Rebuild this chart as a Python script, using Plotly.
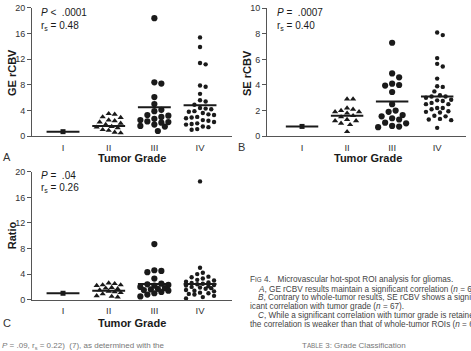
import plotly.graph_objects as go

W, H = 471, 351

grades = ["I", "II", "III", "IV"]
ytick_A = [0, 4, 8, 12, 16, 20]
ytick_B = [0, 2, 4, 6, 8, 10]
ytick_C = [0, 4, 8, 12, 16, 20]

# Panel A: GE rCBV
ge_I = [0.7]
ge_II = [3.5, 3.4, 3.0, 2.9, 2.5, 2.4, 2.2, 2.0, 1.8, 1.5, 1.4, 1.3, 1.0, 0.9, 0.6, 0.5]
ge_III = [18.4, 8.4, 8.2, 6.1, 5.0, 4.1, 3.9, 3.3, 3.2, 3.0, 2.7, 2.5, 2.3, 2.2, 2.1, 1.8, 1.6, 1.5, 0.8]
ge_IV = [15.4, 13.9, 11.4, 11.2, 7.9, 7.7, 6.6, 5.6, 5.4, 4.9, 4.4, 4.3, 4.2, 3.9, 3.8, 3.6,
         3.4, 3.3, 3.0, 2.9, 2.8, 2.5, 2.4, 2.2, 2.0, 1.9, 1.8, 1.5, 1.4, 1.1, 1.0]
ge_mean = [0.7, 1.6, 4.5, 4.8]

# Panel B: SE rCBV
se_I = [0.76]
se_II = [2.9, 2.9, 2.2, 2.1, 2.0, 1.9, 1.9, 1.8, 1.6, 1.5, 1.3, 1.2, 1.2, 1.0, 0.9, 0.35]
se_III = [7.3, 4.9, 4.6, 4.1, 4.0, 3.95, 3.45, 2.5, 2.0, 1.9, 1.65, 1.55, 1.4, 1.3, 1.05, 1.0, 0.8, 0.75, 0.7]
se_IV = [8.1, 7.9, 6.1, 5.65, 5.45, 4.5, 3.9, 3.85, 3.5, 3.2, 3.1, 3.1, 3.0, 2.85, 2.8, 2.75,
         2.6, 2.5, 2.5, 2.2, 2.2, 2.1, 1.95, 1.9, 1.85, 1.6, 1.55, 1.35, 1.3, 1.25, 0.65]
se_mean = [0.76, 1.6, 2.7, 3.1]

# Panel C: Ratio
ra_I = [1.0]
ra_II = [2.6, 2.5, 2.3, 2.3, 2.2, 1.9, 1.8, 1.7, 1.5, 1.3, 1.2, 1.1, 0.9, 0.6, 0.5, 0.4]
ra_III = [8.7, 4.6, 4.5, 4.3, 3.3, 2.5, 2.4, 2.3, 2.2, 2.0, 1.8, 1.7, 1.6, 1.5, 1.4, 1.2, 1.0, 0.8, 0.5]
ra_IV = [18.5, 5.0, 4.2, 4.0, 3.6, 3.5, 3.3, 3.1, 3.0, 2.8, 2.7, 2.6, 2.5, 2.4, 2.3, 2.2,
         2.1, 2.0, 1.9, 1.8, 1.7, 1.5, 1.4, 1.3, 1.1, 1.0, 0.9, 0.8, 0.6, 0.4, 0.2]
ra_mean = [1.0, 1.4, 2.45, 2.45]

INK = "#1a1a1a"
AX = "#555555"
FONT = "Liberation Sans, Arial, sans-serif"


def px_x(p):
    return p / W


def px_y(p):
    return 1 - p / H


def swarm(vals, ppu_y, ppu_x, dist, maxw):
    """Deterministic beeswarm: offsets (category units) that avoid overlap, within +-maxw px."""
    placed, offs = [], []
    step = dist / 2.0
    cands = [0.0]
    j = 1
    while j * step <= maxw:
        cands += [j * step, -j * step]
        j += 1
    for v in vals:
        y = v * ppu_y
        best, bestd = 0.0, -1
        for c in cands:
            dmin = min([((c - a) ** 2 + (y - b) ** 2) ** 0.5 for a, b in placed] or [99])
            if dmin >= dist:
                best = c
                break
            if dmin > bestd:
                best, bestd = c, dmin
        placed.append((best, y))
        offs.append(best / ppu_x)
    return offs


panels = [
    dict(groups=[ge_I, ge_II, ge_III, ge_IV], mean=ge_mean, xd=(32, 232), yd=(135, 3),
         yr=20, ticks=ytick_A, xr=(-0.679, 3.70)),
    dict(groups=[se_I, se_II, se_III, se_IV], mean=se_mean, xd=(267, 466), yd=(135, 3.3),
         yr=10, ticks=ytick_B, xr=(-0.778, 3.64)),
    dict(groups=[ra_I, ra_II, ra_III, ra_IV], mean=ra_mean, xd=(32, 232), yd=(303.3, 171.7),
         yr=20, ticks=ytick_C, xr=(-0.679, 3.70)),
]

symbols = ["square", "triangle-up", "circle", "circle"]
sizes = [5, 5.5, 6.2, 4.4]
dists = [7, 6.0, 7.0, 5.6]
maxws = [10, 14, 15, 15]

fig = go.Figure()
layout = dict(width=W, height=H, margin=dict(l=0, r=0, t=0, b=0),
              paper_bgcolor="white", plot_bgcolor="white", showlegend=False,
              font=dict(family=FONT, color=INK, size=10))

for k, p in enumerate(panels):
    sfx = "" if k == 0 else str(k + 1)
    xa, ya = "x" + sfx, "y" + sfx
    ppu_y = (p["yd"][0] - p["yd"][1]) / p["yr"]
    ppu_x = (p["xd"][1] - p["xd"][0]) / (p["xr"][1] - p["xr"][0])
    for gi, vals in enumerate(p["groups"]):
        offs = swarm(vals, ppu_y, ppu_x, dists[gi], maxws[gi])
        fig.add_trace(go.Scatter(
            x=[gi + o for o in offs], y=vals, mode="markers", xaxis=xa, yaxis=ya,
            marker=dict(symbol=symbols[gi], size=sizes[gi], color=INK, line=dict(width=0)),
            hoverinfo="skip", cliponaxis=False))
        m = p["mean"][gi]
        fig.add_trace(go.Scatter(
            x=[gi - 0.36, gi + 0.36], y=[m, m], mode="lines", xaxis=xa, yaxis=ya,
            line=dict(color=INK, width=2), hoverinfo="skip"))
    layout["xaxis" + sfx] = dict(
        domain=[px_x(p["xd"][0]), px_x(p["xd"][1])], range=list(p["xr"]),
        anchor=ya, showline=True, linecolor=AX, linewidth=1, showgrid=False, zeroline=False,
        tickvals=[0, 1, 2, 3], ticktext=grades, ticks="outside", ticklen=2,
        tickcolor="rgba(0,0,0,0)", tickfont=dict(size=9.5, color="#333"))
    layout["yaxis" + sfx] = dict(
        domain=[px_y(p["yd"][0]), px_y(p["yd"][1])], range=[0, p["yr"]],
        anchor=xa, showline=True, linecolor=AX, linewidth=1, showgrid=False, zeroline=False,
        tickvals=p["ticks"], ticks="outside", ticklen=4, tickcolor=AX,
        tickfont=dict(size=9, color="#333"))

fig.update_layout(**layout)

ann = []


def text(x, y, s, size=10, bold=False, angle=0, xanchor="left", color=INK, yanchor="middle"):
    ann.append(dict(x=px_x(x), y=px_y(y), xref="paper", yref="paper", text=("<b>%s</b>" % s) if bold else s,
                    showarrow=False, xanchor=xanchor, yanchor=yanchor, textangle=angle,
                    font=dict(size=size, color=color, family=FONT)))


# axis titles
text(12, 70, "GE rCBV", 11, True, -90, "center")
text(247, 70, "SE rCBV", 11, True, -90, "center")
text(12, 237, "Ratio", 11, True, -90, "center")
text(132, 157, "Tumor Grade", 11, True, 0, "center")
text(368, 157, "Tumor Grade", 11, True, 0, "center")
text(132, 327, "Tumor Grade", 11, True, 0, "center")

# panel letters
text(7, 156, "A", 11, False, 0, "center", "#333")
text(241, 146, "B", 11, False, 0, "center", "#333")
text(7, 327, "C", 11, False, 0, "center", "#333")

# statistics
text(39, 8, "<i>P</i> &lt;  .0001", 10)
text(39, 22, "r<sub>s</sub> = 0.48", 10)
text(275, 8, "<i>P</i> =  .0007", 10)
text(275, 22, "r<sub>s</sub> = 0.40", 10)
text(39, 175, "<i>P</i> =  .04", 10)
text(39, 188, "r<sub>s</sub> = 0.26", 10)

# caption (runs off the right edge, as in the reference page crop)
cap = "#444"
cs = 8.2
text(248, 283, "F<span style='font-size:6.3px'>IG</span> 4.   Microvascular hot-spot ROI analysis for gliomas.", cs, color=cap)
text(256, 292.5, "<i>A</i>, GE rCBV results maintain a significant correlation (<i>n</i> = 67).", cs, color=cap)
text(256, 301.5, "<i>B</i>, Contrary to whole-tumor results, SE rCBV shows a signif-", cs, color=cap)
text(248, 310.5, "icant correlation with tumor grade (<i>n</i> = 67).", cs, color=cap)
text(256, 319.5, "<i>C</i>, While a significant correlation with tumor grade is retained,", cs, color=cap)
text(248, 328.5, "the correlation is weaker than that of whole-tumor ROIs (<i>n</i> = 67,", cs, color=cap)

# lines of the page that are cut by the bottom edge
text(0, 344, "<i>P</i> = .09, r<sub>s</sub> = 0.22)  (7), as determined with the", 8, color="#777", yanchor="top")
text(300, 344, "T<span style='font-size:6.3px'>ABLE</span> 3: Grade Classification", 8, color="#777", yanchor="top")

fig.update_layout(annotations=ann)
fig.write_html("out.html")
